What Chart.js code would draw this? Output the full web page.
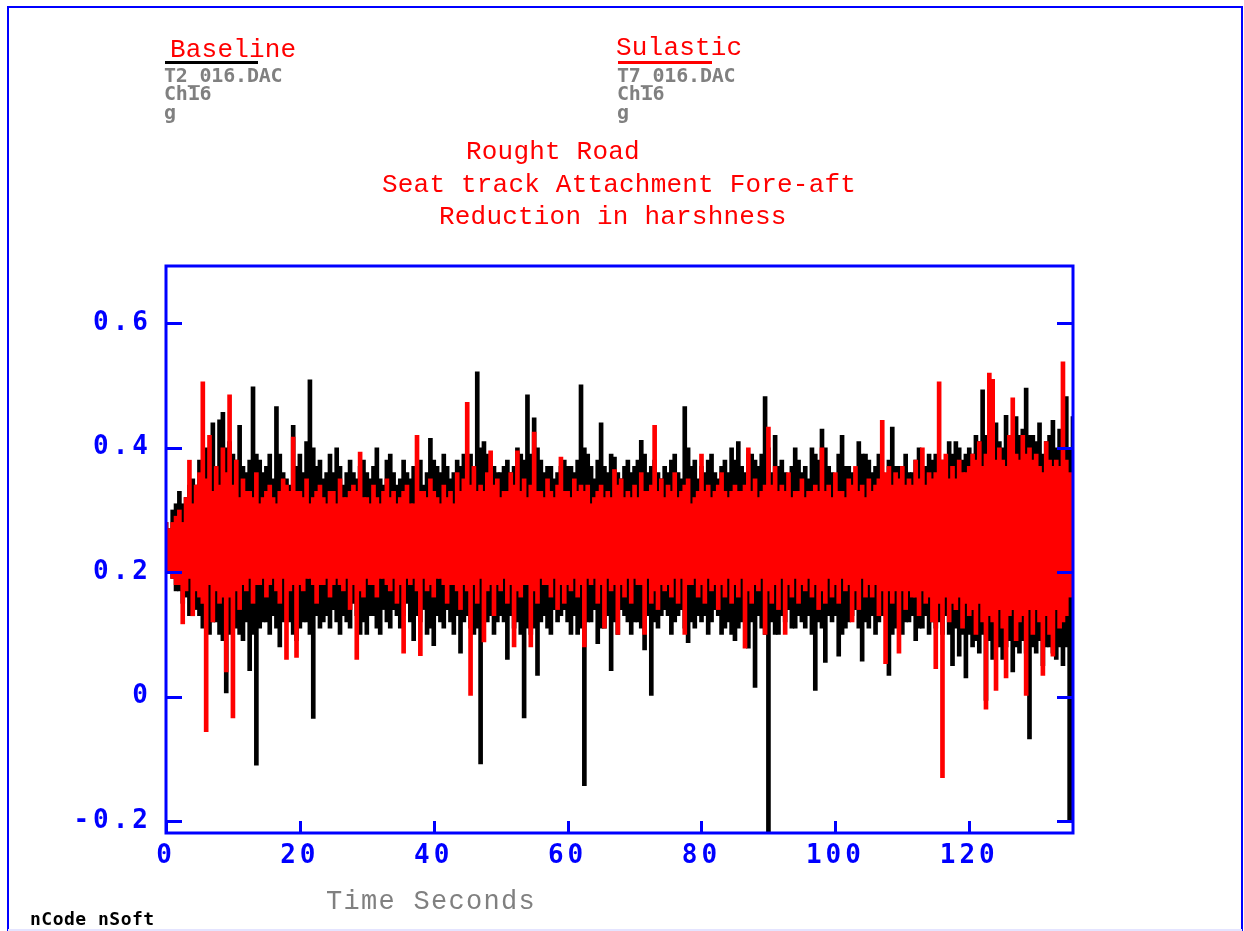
<!DOCTYPE html>
<html>
<head>
<meta charset="utf-8">
<title>Rought Road - Seat track Attachment Fore-aft</title>
<script src="https://cdn.jsdelivr.net/npm/chart.js@4.4.1/dist/chart.umd.min.js"></script>
<style>
    html, body { margin: 0; padding: 0; background: #fff; }
    canvas { display: block; }
</style>
</head>
<body>
<canvas id="roadChart" width="1244" height="931"></canvas>
<script>
// the traces are shown the nCode way: one min..max column per time bin
const binStep = 0.5; // seconds per column

// Baseline, T2_016.DAC Ch16 (g)
const baselineMax = [
    0.28, 0.27, 0.30, 0.31, 0.33, 0.31, 0.32, 0.34, 0.35, 0.34,
    0.38, 0.35, 0.40, 0.38, 0.44, 0.37, 0.445, 0.457, 0.40, 0.41,
    0.39, 0.38, 0.436, 0.37, 0.36, 0.38, 0.498, 0.39, 0.38, 0.36,
    0.37, 0.39, 0.35, 0.466, 0.39, 0.36, 0.35, 0.34, 0.436, 0.37,
    0.39, 0.36, 0.41, 0.509, 0.40, 0.37, 0.38, 0.35, 0.36, 0.39,
    0.36, 0.40, 0.37, 0.34, 0.36, 0.38, 0.36, 0.35, 0.37, 0.38,
    0.36, 0.35, 0.37, 0.40, 0.35, 0.34, 0.38, 0.39, 0.36, 0.34,
    0.35, 0.38, 0.36, 0.35, 0.37, 0.37, 0.38, 0.34, 0.36, 0.415,
    0.38, 0.37, 0.36, 0.39, 0.37, 0.35, 0.36, 0.38, 0.37, 0.39,
    0.38, 0.39, 0.37, 0.522, 0.40, 0.41, 0.39, 0.38, 0.37, 0.36,
    0.36, 0.37, 0.38, 0.36, 0.37, 0.40, 0.39, 0.38, 0.485, 0.39,
    0.448, 0.40, 0.38, 0.36, 0.37, 0.37, 0.35, 0.36, 0.37, 0.38,
    0.37, 0.37, 0.36, 0.38, 0.501, 0.40, 0.39, 0.37, 0.35, 0.38,
    0.44, 0.37, 0.36, 0.39, 0.385, 0.36, 0.35, 0.37, 0.38, 0.36,
    0.37, 0.38, 0.412, 0.39, 0.36, 0.37, 0.38, 0.36, 0.35, 0.37,
    0.36, 0.38, 0.39, 0.36, 0.35, 0.466, 0.40, 0.37, 0.38, 0.35,
    0.37, 0.36, 0.38, 0.39, 0.36, 0.35, 0.37, 0.38, 0.36, 0.40,
    0.38, 0.41, 0.37, 0.36, 0.39, 0.39, 0.38, 0.37, 0.39, 0.482,
    0.40, 0.36, 0.42, 0.37, 0.38, 0.36, 0.35, 0.37, 0.40, 0.38,
    0.36, 0.37, 0.35, 0.40, 0.39, 0.38, 0.43, 0.40, 0.37, 0.36,
    0.35, 0.39, 0.42, 0.37, 0.37, 0.36, 0.36, 0.41, 0.39, 0.39,
    0.38, 0.36, 0.37, 0.39, 0.36, 0.35, 0.38, 0.433, 0.37, 0.37,
    0.37, 0.39, 0.36, 0.36, 0.38, 0.40, 0.37, 0.37, 0.39, 0.38,
    0.39, 0.37, 0.38, 0.36, 0.41, 0.39, 0.41, 0.40, 0.38, 0.39,
    0.40, 0.39, 0.42, 0.41, 0.493, 0.42, 0.43, 0.40, 0.44, 0.41,
    0.40, 0.452, 0.41, 0.39, 0.45, 0.42, 0.43, 0.496, 0.42, 0.42,
    0.41, 0.44, 0.39, 0.41, 0.42, 0.444, 0.40, 0.43, 0.41, 0.482,
    0.40, 0.45
];
const baselineMin = [
    0.22, 0.20, 0.19, 0.17, 0.17, 0.15, 0.16, 0.13, 0.15, 0.14,
    0.13, 0.11, 0.12, 0.10, 0.12, 0.12, 0.10, 0.09, 0.006, 0.10,
    0.12, 0.11, 0.10, 0.09, 0.12, 0.042, 0.10, -0.11, 0.11, 0.12,
    0.12, 0.10, 0.13, 0.11, 0.08, 0.12, 0.13, 0.12, 0.10, 0.09,
    0.11, 0.12, 0.12, 0.10, -0.035, 0.13, 0.11, 0.12, 0.13, 0.11,
    0.14, 0.12, 0.10, 0.13, 0.12, 0.11, 0.15, 0.13, 0.10, 0.12,
    0.10, 0.13, 0.13, 0.11, 0.10, 0.14, 0.12, 0.11, 0.14, 0.13,
    0.11, 0.13, 0.15, 0.12, 0.09, 0.13, 0.12, 0.14, 0.10, 0.11,
    0.082, 0.13, 0.12, 0.11, 0.14, 0.12, 0.10, 0.13, 0.07, 0.12,
    0.13, 0.11, 0.10, 0.11, -0.108, 0.12, 0.12, 0.13, 0.10, 0.12,
    0.13, 0.12, 0.06, 0.13, 0.11, 0.12, 0.10, -0.034, 0.11, 0.10,
    0.11, 0.034, 0.12, 0.13, 0.11, 0.10, 0.14, 0.12, 0.13, 0.14,
    0.12, 0.10, 0.13, 0.10, 0.11, -0.143, 0.12, 0.12, 0.14, 0.085,
    0.11, 0.11, 0.13, 0.042, 0.12, 0.10, 0.14, 0.13, 0.12, 0.10,
    0.12, 0.12, 0.11, 0.075, 0.13, 0.002, 0.12, 0.11, 0.13, 0.14,
    0.13, 0.10, 0.12, 0.13, 0.14, 0.11, 0.087, 0.12, 0.11, 0.13,
    0.12, 0.13, 0.10, 0.12, 0.14, 0.13, 0.10, 0.11, 0.12, 0.10,
    0.09, 0.11, 0.12, 0.13, 0.078, 0.12, 0.015, 0.13, 0.11, 0.10,
    -0.26, 0.12, 0.10, 0.10, 0.13, 0.12, 0.14, 0.11, 0.11, 0.13,
    0.12, 0.11, 0.13, 0.10, 0.01, 0.12, 0.11, 0.055, 0.13, 0.12,
    0.13, 0.065, 0.10, 0.11, 0.12, 0.13, 0.14, 0.11, 0.057, 0.12,
    0.11, 0.13, 0.10, 0.12, 0.13, 0.14, 0.034, 0.10, 0.11, 0.12,
    0.10, 0.12, 0.12, 0.13, 0.09, 0.11, 0.11, 0.13, 0.10, 0.12,
    0.11, 0.12, 0.10, 0.13, 0.10, 0.05, 0.11, 0.065, 0.10, 0.03,
    0.10, 0.08, 0.09, 0.07, 0.10, -0.006, 0.09, 0.06, 0.08, 0.08,
    0.06, 0.08, 0.09, 0.04, 0.08, 0.07, 0.09, 0.07, -0.068, 0.08,
    0.07, 0.09, 0.05, 0.08, 0.08, 0.07, 0.06, 0.08, 0.05, 0.08,
    -0.2, -0.15
];

// Sulastic, T7_016.DAC Ch16 (g)
const sulasticMax = [
    0.28, 0.27, 0.28, 0.29, 0.30, 0.28, 0.32, 0.38, 0.31, 0.34,
    0.36, 0.506, 0.35, 0.42, 0.33, 0.37, 0.34, 0.40, 0.36, 0.485,
    0.34, 0.38, 0.32, 0.35, 0.33, 0.33, 0.32, 0.36, 0.31, 0.32,
    0.33, 0.34, 0.32, 0.31, 0.33, 0.35, 0.34, 0.33, 0.417, 0.33,
    0.33, 0.32, 0.35, 0.31, 0.32, 0.33, 0.34, 0.32, 0.31, 0.33,
    0.33, 0.31, 0.35, 0.32, 0.32, 0.33, 0.34, 0.33, 0.393, 0.32,
    0.32, 0.31, 0.34, 0.32, 0.31, 0.33, 0.35, 0.32, 0.33, 0.31,
    0.32, 0.33, 0.34, 0.31, 0.31, 0.42, 0.33, 0.33, 0.32, 0.35,
    0.33, 0.32, 0.31, 0.34, 0.32, 0.33, 0.31, 0.36, 0.33, 0.35,
    0.473, 0.34, 0.37, 0.33, 0.34, 0.33, 0.36, 0.395, 0.34, 0.35,
    0.32, 0.33, 0.33, 0.36, 0.34, 0.395, 0.33, 0.35, 0.32, 0.34,
    0.425, 0.33, 0.33, 0.32, 0.35, 0.33, 0.32, 0.34, 0.385, 0.33,
    0.33, 0.32, 0.35, 0.33, 0.34, 0.33, 0.34, 0.31, 0.32, 0.33,
    0.34, 0.32, 0.33, 0.32, 0.365, 0.34, 0.35, 0.32, 0.33, 0.32,
    0.34, 0.32, 0.36, 0.33, 0.33, 0.34, 0.436, 0.33, 0.35, 0.32,
    0.34, 0.33, 0.36, 0.32, 0.33, 0.34, 0.35, 0.31, 0.32, 0.33,
    0.39, 0.33, 0.34, 0.32, 0.33, 0.34, 0.36, 0.33, 0.32, 0.33,
    0.34, 0.33, 0.33, 0.34, 0.40, 0.33, 0.35, 0.32, 0.33, 0.34,
    0.433, 0.34, 0.37, 0.33, 0.34, 0.33, 0.36, 0.32, 0.33, 0.33,
    0.35, 0.32, 0.33, 0.33, 0.34, 0.33, 0.40, 0.33, 0.34, 0.32,
    0.36, 0.33, 0.33, 0.32, 0.35, 0.34, 0.37, 0.33, 0.34, 0.32,
    0.35, 0.33, 0.34, 0.35, 0.444, 0.36, 0.37, 0.34, 0.36, 0.35,
    0.37, 0.34, 0.35, 0.34, 0.38, 0.35, 0.40, 0.34, 0.36, 0.35,
    0.36, 0.506, 0.38, 0.39, 0.35, 0.37, 0.35, 0.38, 0.36, 0.36,
    0.37, 0.39, 0.38, 0.41, 0.37, 0.39, 0.52, 0.51, 0.38, 0.40,
    0.38, 0.37, 0.42, 0.48, 0.39, 0.38, 0.42, 0.39, 0.40, 0.38,
    0.39, 0.37, 0.36, 0.41, 0.38, 0.37, 0.38, 0.37, 0.538, 0.38,
    0.36, 0.34
];
const sulasticMin = [
    0.22, 0.20, 0.19, 0.18, 0.18, 0.117, 0.17, 0.19, 0.13, 0.17,
    0.16, 0.15, -0.056, 0.18, 0.12, 0.17, 0.15, 0.16, 0.04, 0.16,
    -0.034, 0.17, 0.14, 0.18, 0.17, 0.19, 0.15, 0.18, 0.18, 0.19,
    0.16, 0.18, 0.19, 0.17, 0.15, 0.19, 0.06, 0.17, 0.18, 0.063,
    0.18, 0.17, 0.19, 0.19, 0.18, 0.15, 0.18, 0.18, 0.19, 0.16,
    0.18, 0.19, 0.18, 0.17, 0.19, 0.14, 0.18, 0.06, 0.17, 0.16,
    0.19, 0.18, 0.18, 0.16, 0.19, 0.19, 0.18, 0.17, 0.19, 0.15,
    0.18, 0.07, 0.19, 0.18, 0.19, 0.17, 0.066, 0.19, 0.17, 0.18,
    0.16, 0.19, 0.19, 0.18, 0.15, 0.18, 0.18, 0.17, 0.14, 0.18,
    0.17, 0.002, 0.18, 0.15, 0.19, 0.088, 0.17, 0.18, 0.13, 0.18,
    0.17, 0.19, 0.15, 0.18, 0.08, 0.17, 0.16, 0.18, 0.18, 0.08,
    0.17, 0.15, 0.19, 0.18, 0.18, 0.16, 0.19, 0.14, 0.18, 0.15,
    0.18, 0.17, 0.19, 0.16, 0.18, 0.08, 0.19, 0.18, 0.19, 0.15,
    0.18, 0.11, 0.19, 0.17, 0.18, 0.10, 0.18, 0.16, 0.19, 0.15,
    0.19, 0.18, 0.18, 0.10, 0.19, 0.15, 0.17, 0.14, 0.18, 0.17,
    0.18, 0.16, 0.19, 0.15, 0.19, 0.10, 0.18, 0.18, 0.19, 0.16,
    0.18, 0.15, 0.19, 0.17, 0.18, 0.14, 0.18, 0.16, 0.19, 0.15,
    0.18, 0.16, 0.19, 0.078, 0.17, 0.15, 0.18, 0.17, 0.19, 0.10,
    0.17, 0.15, 0.18, 0.14, 0.19, 0.10, 0.18, 0.16, 0.19, 0.15,
    0.18, 0.17, 0.19, 0.16, 0.18, 0.14, 0.17, 0.15, 0.19, 0.16,
    0.18, 0.15, 0.19, 0.17, 0.18, 0.12, 0.17, 0.14, 0.19, 0.16,
    0.18, 0.16, 0.18, 0.13, 0.17, 0.053, 0.17, 0.15, 0.17, 0.07,
    0.17, 0.14, 0.17, 0.16, 0.16, 0.13, 0.17, 0.15, 0.16, 0.12,
    0.045, 0.15, -0.13, 0.16, 0.12, 0.15, 0.14, 0.16, 0.11, 0.15,
    0.13, 0.14, 0.10, 0.15, 0.12, -0.02, 0.13, 0.12, 0.01, 0.14,
    0.11, 0.03, 0.13, 0.14, 0.09, 0.12, 0.13, 0.002, 0.14, 0.10,
    0.14, 0.12, 0.034, 0.13, 0.10, 0.065, 0.14, 0.11, 0.12, 0.13,
    0.16, 0.18
];

const xTicks = [0, 20, 40, 60, 80, 100, 120];
const yTicks = [-0.2, 0, 0.2, 0.4, 0.6];

const BLUE = "#0000ff";
const RED = "#ff0000";
const GREY = "#808080";

function toColumns(mins, maxs) {
    return mins.map(function (lo, i) { return { x: i * binStep, y: [lo, maxs[i]] }; });
}

// frame, inward ticks and the nCode style annotations
const decorPlugin = {
    id: "decor",
    beforeDraw: function (chart) {
        chart.ctx.letterSpacing = "4px";
    },
    beforeDatasetsDraw: function (chart) {
        chart.ctx.letterSpacing = "0px";
    },
    afterDraw: function (chart) {
        const ctx = chart.ctx;
        const a = chart.chartArea;
        const xs = chart.scales.x;
        const ys = chart.scales.y;
        ctx.save();

        // page frame
        ctx.strokeStyle = BLUE;
        ctx.lineWidth = 2;
        ctx.beginPath();
        ctx.moveTo(8, 931); ctx.lineTo(8, 7); ctx.lineTo(1242, 7); ctx.lineTo(1242, 931);
        ctx.stroke();
        ctx.fillStyle = "#e4e4ff";
        ctx.fillRect(8, 929, 1234, 2);

        // plot box
        ctx.lineWidth = 3;
        ctx.strokeRect(a.left, a.top, a.right - a.left, a.bottom - a.top);

        // inward ticks
        ctx.beginPath();
        yTicks.forEach(function (v) {
            const y = Math.round(ys.getPixelForValue(v)) + 0.5;
            ctx.moveTo(a.left, y); ctx.lineTo(a.left + 16, y);
            ctx.moveTo(a.right, y); ctx.lineTo(a.right - 16, y);
        });
        xTicks.forEach(function (v) {
            const x = Math.round(xs.getPixelForValue(v)) + 0.5;
            ctx.moveTo(x, a.bottom); ctx.lineTo(x, a.bottom - 12);
        });
        ctx.stroke();

        ctx.textBaseline = "alphabetic";
        ctx.textAlign = "left";

        // legend blocks
        ctx.font = "26px 'Liberation Mono'";
        ctx.letterSpacing = "0.2px";
        ctx.fillStyle = RED;
        ctx.fillText("Baseline", 170, 57);
        ctx.fillText("Sulastic", 616, 55);
        ctx.fillStyle = "#000";
        ctx.fillRect(165, 61, 93, 3);
        ctx.fillStyle = RED;
        ctx.fillRect(618, 61, 94, 3);

        ctx.font = "bold 20px 'DejaVu Sans Mono'";
        ctx.letterSpacing = "-0.2px";
        ctx.fillStyle = GREY;
        [["T2_016.DAC", 164], ["T7_016.DAC", 617]].forEach(function (b) {
            ctx.fillText(b[0], b[1], 82);
            ctx.fillText("Ch16", b[1], 100);
            ctx.fillText("g", b[1], 119);
        });

        // titles
        ctx.font = "26px 'Liberation Mono'";
        ctx.letterSpacing = "0.2px";
        ctx.fillStyle = RED;
        ctx.fillText("Rought Road", 466, 159);
        ctx.fillText("Seat track Attachment Fore-aft", 382, 192);
        ctx.fillText("Reduction in harshness", 439, 224);

        // axis title
        ctx.font = "27px 'Liberation Mono'";
        ctx.letterSpacing = "1.3px";
        ctx.fillStyle = GREY;
        ctx.fillText("Time Seconds", 326, 909);

        ctx.font = "bold 18px 'DejaVu Sans Mono'";
        ctx.letterSpacing = "0.5px";
        ctx.fillStyle = "#000";
        ctx.fillText("nCode nSoft", 30, 925);

        ctx.restore();
    }
};

const tickFont = { family: "'DejaVu Sans Mono'", size: 26, weight: "bold" };

new Chart(document.getElementById("roadChart"), {
    type: "bar",
    data: {
        datasets: [{
            label: "Sulastic",
            data: toColumns(sulasticMin, sulasticMax),
            backgroundColor: RED,
            grouped: false,
            barThickness: 4,
            order: 0
        }, {
            label: "Baseline",
            data: toColumns(baselineMin, baselineMax),
            backgroundColor: "#000",
            grouped: false,
            barThickness: 4,
            order: 1
        }]
    },
    options: {
        responsive: false,
        animation: false,
        layout: { padding: { top: 266, right: 171, bottom: 0, left: 0 } },
        plugins: {
            legend: { display: false },
            tooltip: { enabled: false }
        },
        scales: {
            x: {
                type: "linear",
                min: 0,
                max: 135.5,
                offset: false,
                grid: { display: false, offset: false },
                border: { display: false },
                afterBuildTicks: function (s) { s.ticks = xTicks.map(function (v) { return { value: v }; }); },
                afterFit: function (s) { s.height = 98; },
                ticks: {
                    color: BLUE,
                    font: tickFont,
                    padding: 0,
                    maxRotation: 0,
                    autoSkip: false,
                    callback: function (v) { return String(v); }
                }
            },
            y: {
                type: "linear",
                min: -0.219,
                max: 0.692,
                grid: { display: false },
                border: { display: false },
                afterBuildTicks: function (s) { s.ticks = yTicks.map(function (v) { return { value: v }; }); },
                afterFit: function (s) { s.width = 166; },
                ticks: {
                    color: BLUE,
                    font: tickFont,
                    padding: 6,
                    callback: function (v) { return String(Math.round(v * 10) / 10); }
                }
            }
        }
    },
    plugins: [decorPlugin]
});
</script>
</body>
</html>
